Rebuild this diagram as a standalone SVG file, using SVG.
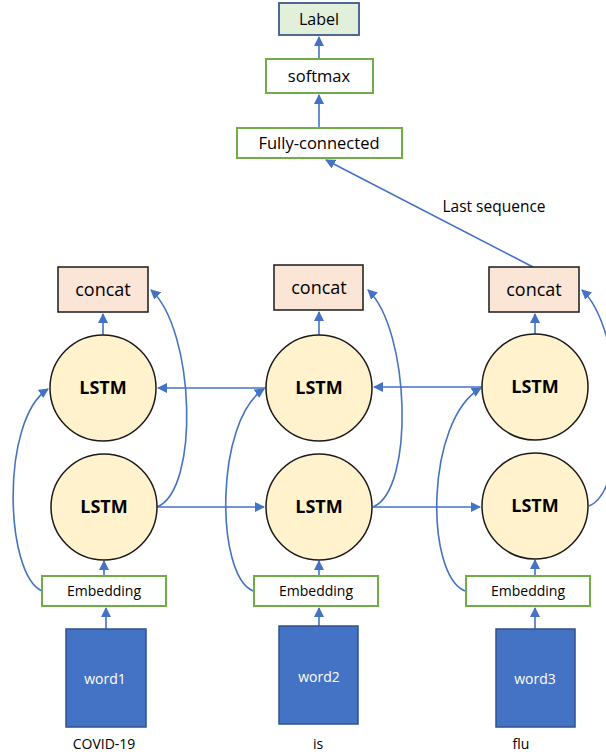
<svg xmlns="http://www.w3.org/2000/svg" width="606" height="755" viewBox="0 0 606 755">
<style>
text{font-family:"Open Sans","Liberation Sans",sans-serif;fill:#000;text-anchor:middle}
.g{fill:#fff;stroke:#70ad47;stroke-width:2}
.cc{fill:#fbe5d6;stroke:#1a1a1a;stroke-width:1.5}
.ls{fill:#fff2cc;stroke:#1a1a1a;stroke-width:1.5}
.w{fill:#4472c4;stroke:#2f528f;stroke-width:1.5}
.c{fill:none;stroke:#4472c4;stroke-width:1.6;marker-end:url(#ah)}
.lt{font-size:18px;font-weight:bold}
.ct{font-size:18px}
.et{font-size:14px}
.wt{font-size:14px;fill:#fff}
</style>
<defs>
<marker id="ah" markerUnits="userSpaceOnUse" markerWidth="10" markerHeight="10" viewBox="0 0 10 10" refX="9" refY="5" orient="auto">
<path d="M0,0 L10,5 L0,10 z" fill="#4472c4"/>
</marker>
</defs>
<g id="connectors">
<path class="c" d="M319,58 L319,37"/>
<path class="c" d="M319,127 L319,95"/>
<path class="c" d="M533,267 L326,160"/>
<path class="c" d="M103,335 L103,314"/>
<path class="c" d="M319,335 L319,312"/>
<path class="c" d="M535,334 L535,314"/>
<path class="c" d="M104,576 L104,561"/>
<path class="c" d="M319,576 L319,561"/>
<path class="c" d="M535,576 L535,560"/>
<path class="c" d="M106,629 L106,608"/>
<path class="c" d="M319,626 L319,608"/>
<path class="c" d="M535,629 L535,608"/>
<path class="c" d="M157,507 L264,507"/>
<path class="c" d="M373,507 L480,507"/>
<path class="c" d="M266,388 L158,388"/>
<path class="c" d="M482,387 L374,387"/>
<path class="c" d="M42,591 C5,575 0,420 48,389"/>
<path class="c" d="M253,591 C215,575 215,420 264,389"/>
<path class="c" d="M465,591 C425,575 425,420 481,388"/>
<path class="c" d="M157,507 C200,490 195,330 151,290"/>
<path class="c" d="M373,507 C415,490 410,330 368,290"/>
<path class="c" d="M589,506 C630,490 625,330 582,290"/>
</g>
<g id="label"><rect x="279" y="3" width="80" height="32" fill="#e2efda" stroke="#3b5a8a" stroke-width="1.8"/><text x="319" y="25" font-size="16">Label</text></g>
<g id="softmax"><rect class="g" x="266" y="59" width="107" height="34"/><text x="319" y="82" font-size="16.5">softmax</text></g>
<g id="fc"><rect class="g" x="237" y="128" width="165" height="30"/><text x="319" y="149" font-size="16.5">Fully-connected</text></g>
<text x="494" y="212" font-size="15.5">Last sequence</text>
<g id="concat1"><rect class="cc" x="58" y="267" width="90" height="45"/><text x="103" y="296" class="ct">concat</text></g>
<g id="concat2"><rect class="cc" x="274" y="265" width="89" height="45"/><text x="319" y="294" class="ct">concat</text></g>
<g id="concat3"><rect class="cc" x="489" y="267" width="90" height="45"/><text x="534" y="296" class="ct">concat</text></g>
<g id="lstm1u"><circle class="ls" cx="103" cy="388" r="53"/><text x="103" y="394" class="lt">LSTM</text></g>
<g id="lstm2u"><circle class="ls" cx="319" cy="388" r="53"/><text x="319" y="394" class="lt">LSTM</text></g>
<g id="lstm3u"><circle class="ls" cx="535" cy="387" r="53"/><text x="535" y="393" class="lt">LSTM</text></g>
<g id="lstm1l"><circle class="ls" cx="104" cy="507" r="53"/><text x="104" y="513" class="lt">LSTM</text></g>
<g id="lstm2l"><circle class="ls" cx="319" cy="507" r="53"/><text x="319" y="513" class="lt">LSTM</text></g>
<g id="lstm3l"><circle class="ls" cx="535" cy="506" r="53"/><text x="535" y="512" class="lt">LSTM</text></g>
<g id="emb1"><rect class="g" x="42" y="576" width="124" height="30"/><text x="104" y="596" class="et">Embedding</text></g>
<g id="emb2"><rect class="g" x="254" y="576" width="124" height="30"/><text x="316" y="596" class="et">Embedding</text></g>
<g id="emb3"><rect class="g" x="466" y="576" width="124" height="30"/><text x="528" y="596" class="et">Embedding</text></g>
<g id="word1"><rect class="w" x="66" y="629" width="80" height="98"/><text x="105" y="684" class="wt">word1</text></g>
<g id="word2"><rect class="w" x="279" y="626" width="79" height="98"/><text x="319" y="682" class="wt">word2</text></g>
<g id="word3"><rect class="w" x="496" y="629" width="79" height="98"/><text x="535" y="684" class="wt">word3</text></g>
<text x="104" y="749" font-size="14">COVID-19</text>
<text x="318" y="749" font-size="14">is</text>
<text x="521" y="749" font-size="14">flu</text>
</svg>
